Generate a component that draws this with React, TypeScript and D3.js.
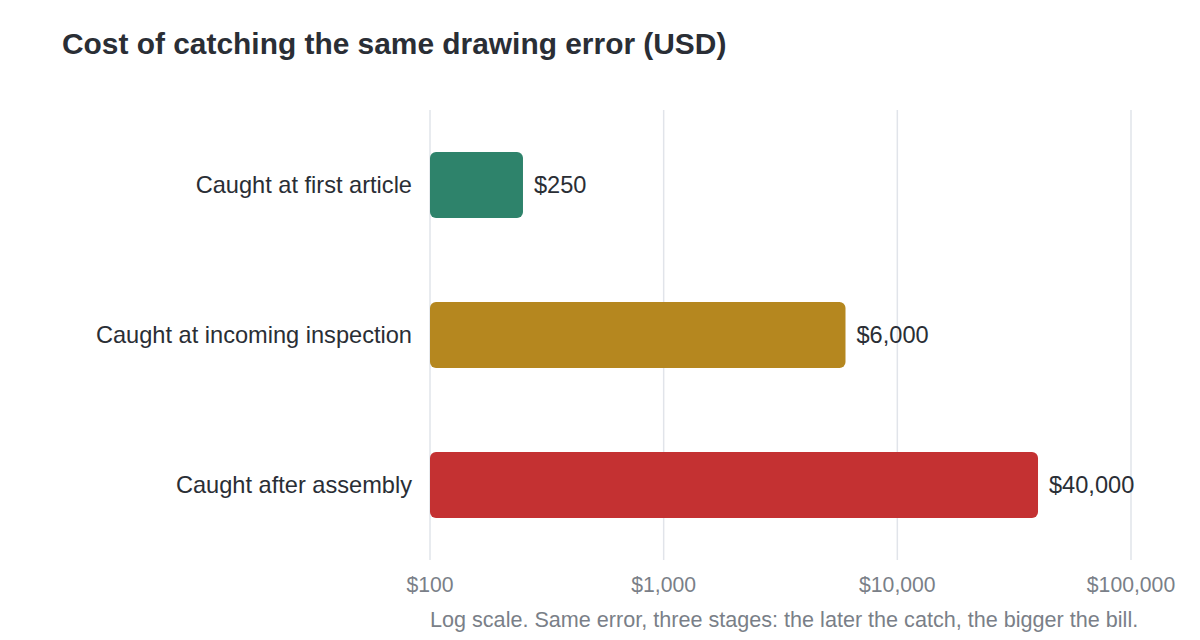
import { useEffect, useRef } from 'react'
import * as d3 from 'd3'

// ─── Data ────────────────────────────────────────────────────────────────────

const stages = ['Caught at first article', 'Caught at incoming inspection', 'Caught after assembly']
const costs = [250, 6000, 40000]
const barColors = ['#2e836b', '#b5871f', '#c43132']
const tickValues = [100, 1000, 10000, 100000]

const TITLE = 'Cost of catching the same drawing error (USD)'
const NOTE = 'Log scale. Same error, three stages: the later the catch, the bigger the bill.'

const W = 1200
const H = 640
const FONT = '"Liberation Sans", Arial, Helvetica, sans-serif'

export default function App() {
  const ref = useRef<SVGSVGElement>(null)

  useEffect(() => {
    document.body.style.margin = '0'
    if (!ref.current) return
    const svg = d3.select(ref.current)
    svg.selectAll('*').remove()

    const margin = { top: 110, right: 69, bottom: 80, left: 430 }
    const inner = { w: W - margin.left - margin.right, h: H - margin.top - margin.bottom }

    svg.append('rect').attr('width', W).attr('height', H).attr('fill', '#ffffff')

    svg.append('text')
      .attr('x', 62)
      .attr('y', 54)
      .attr('font-size', 29.9)
      .attr('font-weight', 700)
      .attr('fill', '#2a2e35')
      .text(TITLE)

    const g = svg.append('g').attr('transform', `translate(${margin.left},${margin.top})`)

    const x = d3.scaleLog().domain([100, 100000]).range([0, inner.w])
    const y = d3.scaleBand().domain(stages).range([0, 450]).paddingInner(0.56).paddingOuter(0.28)

    // grid
    g.append('g')
      .selectAll('line')
      .data(tickValues)
      .join('line')
      .attr('x1', (d) => x(d))
      .attr('x2', (d) => x(d))
      .attr('y1', 0)
      .attr('y2', inner.h)
      .attr('stroke', '#e1e4ea')
      .attr('stroke-width', 1.5)

    // tick labels
    g.append('g')
      .selectAll('text')
      .data(tickValues)
      .join('text')
      .attr('x', (d) => x(d))
      .attr('y', inner.h + 32)
      .attr('text-anchor', 'middle')
      .attr('font-size', 21.2)
      .attr('fill', '#7a7f88')
      .text((d) => `$${d3.format(',')(d)}`)

    // bars
    g.selectAll('.bar')
      .data(stages)
      .join('rect')
      .attr('class', 'bar')
      .attr('x', 0)
      .attr('y', (d) => y(d)!)
      .attr('width', (_, i) => x(costs[i]))
      .attr('height', y.bandwidth())
      .attr('rx', 6)
      .attr('fill', (_, i) => barColors[i])

    // value labels
    g.selectAll('.val')
      .data(stages)
      .join('text')
      .attr('class', 'val')
      .attr('x', (_, i) => x(costs[i]) + 11)
      .attr('y', (d) => y(d)! + y.bandwidth() / 2)
      .attr('dy', '0.35em')
      .attr('font-size', 23.6)
      .attr('fill', '#2a2e35')
      .text((_, i) => `$${d3.format(',')(costs[i])}`)

    // category labels
    g.selectAll('.cat')
      .data(stages)
      .join('text')
      .attr('class', 'cat')
      .attr('x', -18)
      .attr('y', (d) => y(d)! + y.bandwidth() / 2)
      .attr('dy', '0.35em')
      .attr('text-anchor', 'end')
      .attr('font-size', 23.6)
      .attr('fill', '#2a2e35')
      .text((d) => d)

    svg.append('text')
      .attr('x', margin.left)
      .attr('y', 627)
      .attr('font-size', 21.6)
      .attr('fill', '#7a7f88')
      .text(NOTE)
  }, [])

  return (
    <svg
      ref={ref}
      width={W}
      height={H}
      viewBox={`0 0 ${W} ${H}`}
      style={{ display: 'block', fontFamily: FONT }}
    />
  )
}
